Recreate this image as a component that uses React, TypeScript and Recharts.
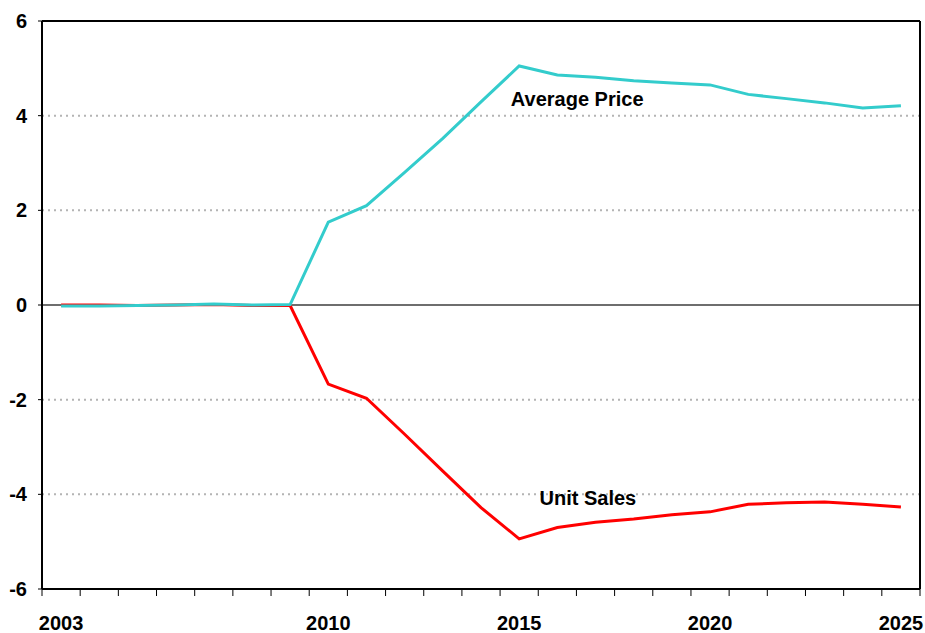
import React from 'react';
import { LineChart, Line, XAxis, YAxis, CartesianGrid, ReferenceLine, ReferenceDot } from 'recharts';

const years = [
  2003, 2004, 2005, 2006, 2007, 2008, 2009, 2010, 2011, 2012, 2013, 2014,
  2015, 2016, 2017, 2018, 2019, 2020, 2021, 2022, 2023, 2024, 2025,
];
const averagePrice = [
  -0.02, -0.02, -0.01, 0.0, 0.02, 0.0, 0.01, 1.75, 2.1, 2.8, 3.52, 4.29,
  5.05, 4.86, 4.81, 4.74, 4.69, 4.65, 4.45, 4.36, 4.27, 4.16, 4.21,
];
const unitSales = [
  0.0, 0.0, -0.01, 0.0, 0.01, -0.01, -0.01, -1.67, -1.97, -2.73, -3.51, -4.28,
  -4.94, -4.7, -4.59, -4.52, -4.43, -4.37, -4.21, -4.18, -4.16, -4.21, -4.27,
];
const yTicks = [-6, -4, -2, 0, 2, 4, 6];
const gridValues = [-4, -2, 2, 4];
const yearLabels = [2003, 2010, 2015, 2020, 2025];
// Excel style: tick marks sit between the years
const boundaryTicks = [...years.map((y) => y - 0.5), years[years.length - 1] + 0.5];

const priceLabel = { x: 2016.52, y: 4.35, text: 'Average Price' };
const salesLabel = { x: 2016.8, y: -4.08, text: 'Unit Sales' };

const data = years.map((year, i) => ({
  year,
  price: averagePrice[i],
  sales: unitSales[i],
}));

const FONT = '"Liberation Sans", Arial, sans-serif';
const tickStyle = { fontSize: 20, fontWeight: 700, fill: '#000', fontFamily: FONT };
const xDomain: [number, number] = [boundaryTicks[0], boundaryTicks[boundaryTicks.length - 1]];

const NoLabel = () => <g />;

export default function App() {
  return (
    <div style={{ position: 'absolute', left: 0, top: 0, background: '#fff' }}>
      <LineChart
        width={925}
        height={633}
        data={data}
        margin={{ top: 21, right: 5, left: 0, bottom: 0 }}
      >
        <CartesianGrid
          xAxisId="a"
          vertical={false}
          horizontalValues={gridValues}
          stroke="#b4b4b4"
          strokeWidth={2}
          strokeDasharray="2 4"
        />
        <XAxis
          xAxisId="b"
          dataKey="year"
          type="number"
          domain={xDomain}
          ticks={yearLabels}
          interval={0}
          height={24}
          axisLine={false}
          tickLine={false}
          tickSize={0}
          tickMargin={7}
          tick={tickStyle}
        />
        <XAxis
          xAxisId="a"
          dataKey="year"
          type="number"
          domain={xDomain}
          ticks={boundaryTicks}
          interval={0}
          height={20}
          tick={NoLabel}
          tickSize={7}
          axisLine={{ stroke: '#000', strokeWidth: 2 }}
          tickLine={{ stroke: '#000', strokeWidth: 1 }}
        />
        <YAxis
          domain={[-6, 6]}
          ticks={yTicks}
          interval={0}
          width={42}
          tick={tickStyle}
          tickSize={4}
          tickMargin={11}
          axisLine={{ stroke: '#000', strokeWidth: 2 }}
          tickLine={{ stroke: '#000', strokeWidth: 1 }}
        />
        <ReferenceLine xAxisId="a" y={0} stroke="#6e6e6e" strokeWidth={2} />
        <ReferenceLine xAxisId="a" y={6} stroke="#000" strokeWidth={2} />
        <ReferenceLine xAxisId="a" x={xDomain[1]} stroke="#000" strokeWidth={2} />
        <Line
          xAxisId="a"
          type="linear"
          dataKey="sales"
          stroke="#ff0000"
          strokeWidth={3}
          dot={false}
          isAnimationActive={false}
        />
        <Line
          xAxisId="a"
          type="linear"
          dataKey="price"
          stroke="#33cccc"
          strokeWidth={3}
          dot={false}
          isAnimationActive={false}
        />
        <ReferenceDot
          xAxisId="a"
          x={priceLabel.x}
          y={priceLabel.y}
          r={0}
          fill="none"
          stroke="none"
          label={{ value: priceLabel.text, position: 'center', fontSize: 20, fontWeight: 700, fill: '#000', fontFamily: FONT }}
        />
        <ReferenceDot
          xAxisId="a"
          x={salesLabel.x}
          y={salesLabel.y}
          r={0}
          fill="none"
          stroke="none"
          label={{ value: salesLabel.text, position: 'center', fontSize: 20, fontWeight: 700, fill: '#000', fontFamily: FONT }}
        />
      </LineChart>
    </div>
  );
}
